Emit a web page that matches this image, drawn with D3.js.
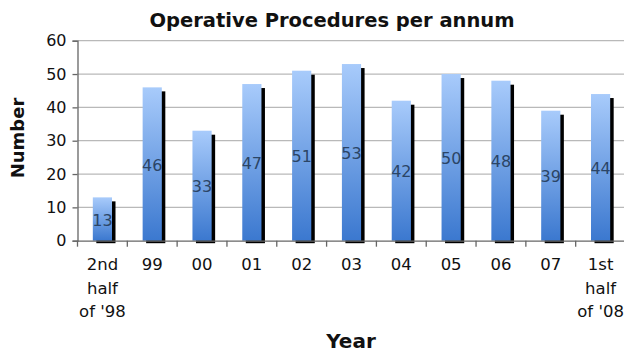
<!DOCTYPE html>
<html><head><meta charset="utf-8">
<script src="https://cdn.jsdelivr.net/npm/d3@7"></script>
<style>body{margin:0;background:#fff}svg{display:block}</style>
</head><body>
<svg id="c" width="624" height="353"></svg>
<script>
const categories = [["2nd","half","of '98"],["99"],["00"],["01"],["02"],["03"],["04"],["05"],["06"],["07"],["1st","half","of '08"]];
const values = [13,46,33,47,51,53,42,50,48,39,44];
const yTicks = [0,10,20,30,40,50,60];
const title = "Operative Procedures per annum";
const xTitle = "Year", yTitle = "Number";

const svg = d3.select("#c");
const W = 624, H = 353;
const m = {left:77.5, right:-1.5, top:40.7, bottom:112.3};
const x = d3.scaleBand().domain(d3.range(values.length)).range([m.left, W - m.right]).paddingInner(0).paddingOuter(0);
const y = d3.scaleLinear().domain([0,60]).range([H - m.bottom, m.top]);

const defs = svg.append("defs");
const g = defs.append("linearGradient").attr("id","bg").attr("x1",0).attr("y1",0).attr("x2",0).attr("y2",1);
g.append("stop").attr("offset","0%").attr("stop-color","#a8cbfb");
g.append("stop").attr("offset","100%").attr("stop-color","#3b78cf");

// gridlines
svg.append("g").selectAll("line").data(yTicks.filter(d=>d>0)).join("line")
  .attr("x1", m.left).attr("x2", W).attr("y1", d=>y(d)).attr("y2", d=>y(d))
  .attr("stroke","#b9b9b9").attr("stroke-width",1.3);

const bw = x.bandwidth()*0.385;
const cx = i => x(i) + x.bandwidth()/2;
// shadows
svg.append("g").selectAll("rect").data(values).join("rect")
  .attr("x",(d,i)=>cx(i)-bw/2+3.5).attr("width",bw)
  .attr("y",d=>y(d)+4).attr("height",d=>y(0)-y(d)-1.5)
  .attr("fill","#000");
// bars
svg.append("g").selectAll("rect").data(values).join("rect")
  .attr("x",(d,i)=>cx(i)-bw/2).attr("width",bw)
  .attr("y",d=>y(d)).attr("height",d=>y(0)-y(d))
  .attr("fill","url(#bg)");
// value labels
svg.append("g").selectAll("text").data(values).join("text")
  .attr("x",(d,i)=>cx(i)).attr("y",d=>(y(d)+y(0))/2 + 1)
  .attr("dy","0.36em").attr("text-anchor","middle")
  .attr("font-family","DejaVu Sans").attr("font-size",16)
  .attr("fill","#2b4566").text(d=>d);

// axes
const ya = svg.append("g").attr("transform",`translate(${m.left},0)`)
  .call(d3.axisLeft(y).tickValues(yTicks).tickSize(5).tickPadding(6));
const xa = svg.append("g").attr("transform",`translate(0,${y(0)})`)
  .call(d3.axisBottom(x).tickSize(0).tickFormat(""));
[ya,xa].forEach(a=>{a.select(".domain").attr("stroke","#666").attr("stroke-width",1.3);
  a.selectAll(".tick line").attr("stroke","#666").attr("stroke-width",1.3);});
ya.selectAll(".tick text").attr("font-family","DejaVu Sans").attr("font-size",16).attr("fill","#111");
// x boundary ticks
svg.append("g").selectAll("line").data(d3.range(values.length+1)).join("line")
  .attr("x1",i=>m.left + i*x.bandwidth()).attr("x2",i=>m.left + i*x.bandwidth())
  .attr("y1",y(0)).attr("y2",y(0)+6).attr("stroke","#666").attr("stroke-width",1.3);
// x labels
const xl = svg.append("g").selectAll("text").data(categories).join("text")
  .attr("text-anchor","middle").attr("font-family","DejaVu Sans").attr("font-size",16.5).attr("fill","#111")
  .attr("x",(d,i)=>cx(i)).attr("y",270);
xl.selectAll("tspan").data(d=>d).join("tspan")
  .attr("x",function(){return this.parentNode.getAttribute("x");})
  .attr("dy",(d,j)=>j===0?0:23.5).text(d=>d);

svg.append("text").attr("x",332).attr("y",27).attr("text-anchor","middle")
  .attr("font-family","DejaVu Sans").attr("font-weight","bold").attr("font-size",19.5).attr("fill","#111").text(title);
svg.append("text").attr("x",351).attr("y",348).attr("text-anchor","middle")
  .attr("font-family","DejaVu Sans").attr("font-weight","bold").attr("font-size",20).attr("fill","#111").text(xTitle);
svg.append("text").attr("transform","translate(24,138) rotate(-90)").attr("text-anchor","middle")
  .attr("font-family","DejaVu Sans").attr("font-weight","bold").attr("font-size",18).attr("fill","#111").text(yTitle);
</script>
</body></html>
